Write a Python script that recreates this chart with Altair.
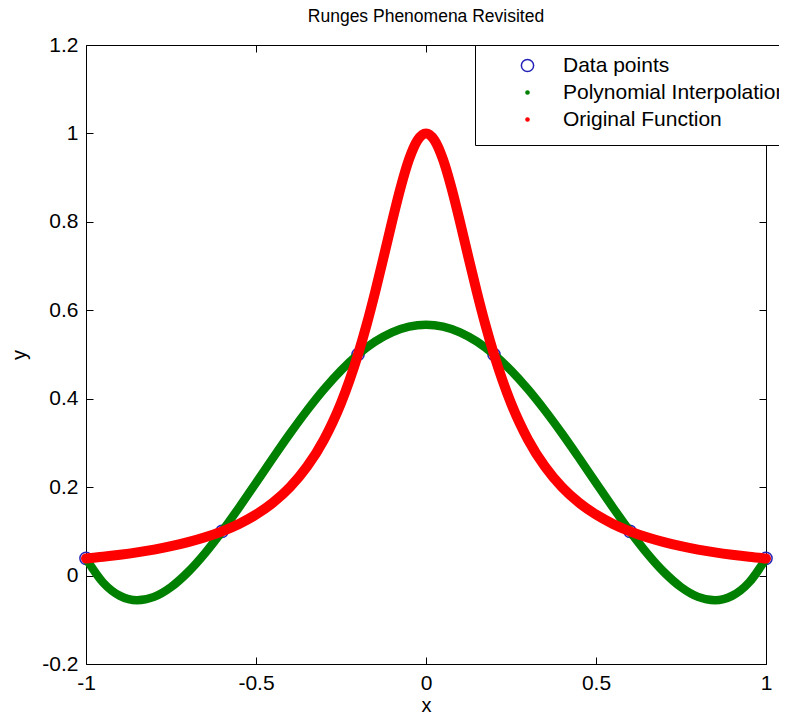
import altair as alt
import pandas as pd

chart_title = "Runges Phenomena Revisited"
x_title = "x"
y_title = "y"
series_names = ["Data points", "Polynomial Interpolation", "Original Function"]
series_stroke = ["#2323b8", "#008000", "#ff0000"]
series_fill = ["transparent", "#008000", "#ff0000"]
series_size = [150, 10, 10]

x_ticks = [-1, -0.5, 0, 0.5, 1]
y_ticks = [-0.2, 0, 0.2, 0.4, 0.6, 0.8, 1, 1.2]

data_x = [-1, -0.6, -0.2, 0.2, 0.6, 1]
data_y = [0.039, 0.1, 0.5, 0.5, 0.1, 0.039]

poly_x = [-1.0, -0.95, -0.9, -0.85, -0.8, -0.75, -0.7, -0.65, -0.6, -0.55,
          -0.5, -0.45, -0.4, -0.35, -0.3, -0.25, -0.2, -0.15, -0.1, -0.05,
          0.0,
          0.05, 0.1, 0.15, 0.2, 0.25, 0.3, 0.35, 0.4, 0.45, 0.5,
          0.55, 0.6, 0.65, 0.7, 0.75, 0.8, 0.85, 0.9, 0.95, 1.0]
poly_y = [0.0385, -0.0157, -0.0460, -0.0558, -0.0481, -0.0260, 0.0078, 0.0506, 0.1000, 0.1537,
          0.2097, 0.2661, 0.3212, 0.3733, 0.4213, 0.4638, 0.5000, 0.5290, 0.5501, 0.5630,
          0.5673,
          0.5630, 0.5501, 0.5290, 0.5000, 0.4638, 0.4213, 0.3733, 0.3212, 0.2661, 0.2097,
          0.1537, 0.1000, 0.0506, 0.0078, -0.0260, -0.0481, -0.0558, -0.0460, -0.0157, 0.0385]

orig_x = [-1.0, -0.95, -0.9, -0.85, -0.8, -0.75, -0.7, -0.65, -0.6, -0.55,
          -0.5, -0.45, -0.4, -0.35, -0.3, -0.275, -0.25, -0.225, -0.2, -0.175,
          -0.15, -0.125, -0.1, -0.075, -0.05, -0.025,
          0.0,
          0.025, 0.05, 0.075, 0.1, 0.125, 0.15, 0.175, 0.2, 0.225, 0.25,
          0.275, 0.3, 0.35, 0.4, 0.45, 0.5, 0.55, 0.6, 0.65, 0.7,
          0.75, 0.8, 0.85, 0.9, 0.95, 1.0]
orig_y = [0.0385, 0.0424, 0.0471, 0.0525, 0.0588, 0.0664, 0.0755, 0.0865, 0.1000, 0.1168,
          0.1379, 0.1649, 0.2000, 0.2462, 0.3077, 0.3459, 0.3902, 0.4414, 0.5000, 0.5664,
          0.6400, 0.7191, 0.8000, 0.8767, 0.9412, 0.9846,
          1.0000,
          0.9846, 0.9412, 0.8767, 0.8000, 0.7191, 0.6400, 0.5664, 0.5000, 0.4414, 0.3902,
          0.3459, 0.3077, 0.2462, 0.2000, 0.1649, 0.1379, 0.1168, 0.1000, 0.0865, 0.0755,
          0.0664, 0.0588, 0.0525, 0.0471, 0.0424, 0.0385]

pts = pd.DataFrame({"x": data_x, "y": data_y, "series": series_names[0]})
poly = pd.DataFrame({"x": poly_x, "y": poly_y})
orig = pd.DataFrame({"x": orig_x, "y": orig_y})

xs = alt.Scale(domain=[-1, 1], nice=False, zero=False)
ys = alt.Scale(domain=[-0.2, 1.2], nice=False, zero=False)

tick_common = dict(tickSize=7, offset=-7, domain=False, grid=False,
                   tickColor="black", tickWidth=1)
label_expr = "'' + datum.value"

x_bottom = alt.Axis(orient="bottom", values=x_ticks, labelExpr=label_expr,
                    labelFlush=False, labelPadding=8, labelFontSize=21,
                    labelColor="black", title=x_title, titleFontSize=20,
                    titleFontWeight="normal", titleColor="black",
                    titlePadding=2, **tick_common)
y_left = alt.Axis(orient="left", values=y_ticks, labelExpr=label_expr,
                  labelPadding=8, labelFontSize=21, labelColor="black",
                  title=y_title, titleFontSize=20, titleFontWeight="normal",
                  titleColor="black", titlePadding=12, **tick_common)
x_top = alt.Axis(orient="top", values=x_ticks, labels=False, title=None,
                 **tick_common)
y_right = alt.Axis(orient="right", values=y_ticks, labels=False, title=None,
                   **tick_common)

legend = alt.Legend(title=" ", titleOrient="bottom", titleFontSize=5, titlePadding=0,
                    orient="none", legendX=389, legendY=0,
                    padding=10, rowPadding=5, symbolOffset=32, labelOffset=25,
                    symbolStrokeWidth=1.5,
                    labelFontSize=21, labelColor="black", labelLimit=400,
                    strokeColor="black", fillColor="white", zindex=1)

points = alt.Chart(pts).mark_point(shape="circle", strokeWidth=1.5, opacity=1).encode(
    x=alt.X("x:Q", scale=xs, axis=x_bottom),
    y=alt.Y("y:Q", scale=ys, axis=y_left),
    fill=alt.Fill("series:N", scale=alt.Scale(domain=series_names, range=series_fill), legend=legend),
    stroke=alt.Stroke("series:N", scale=alt.Scale(domain=series_names, range=series_stroke), legend=legend),
    size=alt.Size("series:N", scale=alt.Scale(type="ordinal", domain=series_names, range=series_size), legend=legend),
)

poly_line = alt.Chart(poly).mark_line(
    color=series_stroke[1], strokeWidth=8.5, interpolate="monotone",
    strokeCap="round", strokeJoin="round"
).encode(
    x=alt.X("x:Q", scale=xs, axis=None),
    y=alt.Y("y:Q", scale=ys, axis=None),
)

orig_line = alt.Chart(orig).mark_line(
    color=series_stroke[2], strokeWidth=10, interpolate="monotone",
    strokeCap="round", strokeJoin="round"
).encode(
    x=alt.X("x:Q", scale=xs, axis=x_top),
    y=alt.Y("y:Q", scale=ys, axis=y_right),
)

chart = alt.layer(points, poly_line, orig_line).resolve_axis(
    x="independent", y="independent"
).properties(
    width=680, height=619,
    autosize=alt.AutoSizeParams(type="none"),
    padding={"left": 78, "top": 37, "right": 13, "bottom": 50},
    title=alt.TitleParams(text=chart_title, fontSize=17.5, fontWeight="normal",
                          color="black", anchor="middle", frame="group",
                          offset=-5, baseline="alphabetic"),
).configure(font="Liberation Sans").configure_view(stroke="black", strokeWidth=1)

chart.save("out.html", embed_options={"renderer": "svg", "actions": False})
